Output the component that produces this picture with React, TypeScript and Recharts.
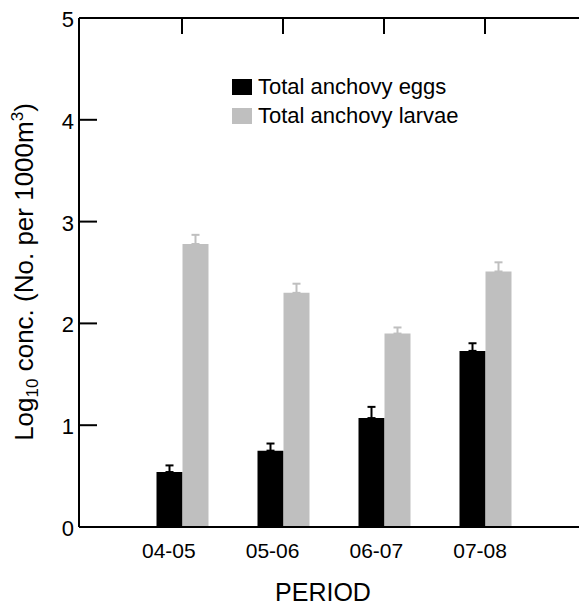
import { BarChart, Bar, XAxis, YAxis, ErrorBar, Legend } from 'recharts'

const PERIODS = ['04-05', '05-06', '06-07', '07-08']
const EGGS = [0.54, 0.75, 1.07, 1.73]
const EGGS_ERR = [0.065, 0.07, 0.11, 0.075]
const LARVAE = [2.78, 2.3, 1.9, 2.51]
const LARVAE_ERR = [0.09, 0.09, 0.06, 0.09]
const Y_TICKS = [0, 1, 2, 3, 4, 5]

const GREY = '#bfbfbf'
const FONT = '"Liberation Sans", Arial, Helvetica, sans-serif'

const data = PERIODS.map((period, i) => ({
  period,
  eggs: EGGS[i],
  eggsErr: [0, EGGS_ERR[i]],
  larvae: LARVAE[i],
  larvaeErr: [0, LARVAE_ERR[i]],
}))

// ticks point into the plot, labels stay outside
function LeftTick({ x, y, payload }: any) {
  const ax = x + 5
  return (
    <g>
      <line x1={ax} x2={ax + 18} y1={y} y2={y} stroke="#000" strokeWidth={2} />
      <text x={x} y={y} dy={9} textAnchor="end" fontSize={22} fontFamily={FONT} fill="#000">
        {payload.value}
      </text>
    </g>
  )
}

function RightTick({ x, y }: any) {
  return <line x1={x - 18} x2={x} y1={y} y2={y} stroke="#000" strokeWidth={2} />
}

function TopTick({ x, y }: any) {
  return <line x1={x} x2={x} y1={y} y2={y + 16} stroke="#000" strokeWidth={2} />
}

function BottomTick({ x, y, payload }: any) {
  return (
    <text x={x} y={y + 31} textAnchor="middle" fontSize={21} fontFamily={FONT} fill="#000">
      {payload.value}
    </text>
  )
}

function YLabel() {
  return (
    <text
      transform="translate(33,272) rotate(-90)"
      textAnchor="middle"
      fontSize={26}
      fontFamily={FONT}
      fill="#000"
    >
      Log
      <tspan fontSize={17} dy={5}>10</tspan>
      <tspan dy={-5}> conc. (No. per 1000m</tspan>
      <tspan fontSize={17} dy={-10}>3</tspan>
      <tspan dy={10}>)</tspan>
    </text>
  )
}

function XLabel() {
  return (
    <text x={323} y={601} textAnchor="middle" fontSize={25} fontFamily={FONT} fill="#000">
      PERIOD
    </text>
  )
}

function LegendBox() {
  const rows = [
    { name: 'Total anchovy eggs', color: '#000' },
    { name: 'Total anchovy larvae', color: GREY },
  ]
  return (
    <div style={{ fontFamily: FONT }}>
      {rows.map((r) => (
        <div key={r.name} style={{ display: 'flex', alignItems: 'center', height: 29 }}>
          <span style={{ width: 20, height: 16, background: r.color, marginRight: 6 }} />
          <span style={{ fontSize: 22, color: '#000', whiteSpace: 'nowrap' }}>{r.name}</span>
        </div>
      ))}
    </div>
  )
}

export default function App() {
  return (
    <div
      style={{
        position: 'absolute',
        left: 0,
        top: 0,
        width: 579,
        height: 607,
        overflow: 'hidden',
        background: '#fff',
        fontFamily: FONT,
      }}
    >
      <BarChart
        width={600}
        height={607}
        data={data}
        barSize={26}
        barGap={0}
        margin={{ top: 0, right: 0, bottom: 40, left: 0 }}
      >
        <XAxis
          xAxisId="top"
          dataKey="period"
          orientation="top"
          height={18}
          padding={{ left: 52.5, right: 53.5 }}
          axisLine={{ stroke: '#000', strokeWidth: 2 }}
          tickLine={false}
          tickSize={0}
          tickMargin={0}
          tick={<TopTick />}
          interval={0}
        />
        <XAxis
          xAxisId="labels"
          dataKey="period"
          height={40}
          padding={{ left: 38, right: 57 }}
          axisLine={{ stroke: '#000', strokeWidth: 2 }}
          tickLine={false}
          tickSize={0}
          tickMargin={0}
          tick={<BottomTick />}
          interval={0}
          label={<XLabel />}
        />
        <YAxis
          yAxisId="left"
          type="number"
          domain={[0, 5]}
          ticks={Y_TICKS}
          width={79}
          axisLine={{ stroke: '#000', strokeWidth: 2 }}
          tickLine={false}
          tickSize={0}
          tickMargin={5}
          tick={<LeftTick />}
          interval={0}
          label={<YLabel />}
        />
        <YAxis
          yAxisId="right"
          orientation="right"
          type="number"
          domain={[0, 5]}
          ticks={Y_TICKS}
          width={11}
          axisLine={{ stroke: '#000', strokeWidth: 2 }}
          tickLine={false}
          tickSize={0}
          tickMargin={0}
          tick={<RightTick />}
          interval={0}
        />
        <Legend
          layout="vertical"
          align="center"
          verticalAlign="middle"
          wrapperStyle={{ left: 232, top: 72, width: 'auto', height: 'auto' }}
          content={<LegendBox />}
        />
        <Bar dataKey="eggs" xAxisId="top" yAxisId="left" fill="#000" isAnimationActive={false}>
          <ErrorBar dataKey="eggsErr" width={4} stroke="#000" strokeWidth={2} isAnimationActive={false} />
        </Bar>
        <Bar dataKey="larvae" xAxisId="top" yAxisId="left" fill={GREY} isAnimationActive={false}>
          <ErrorBar dataKey="larvaeErr" width={4} stroke={GREY} strokeWidth={2} isAnimationActive={false} />
        </Bar>
      </BarChart>
    </div>
  )
}
